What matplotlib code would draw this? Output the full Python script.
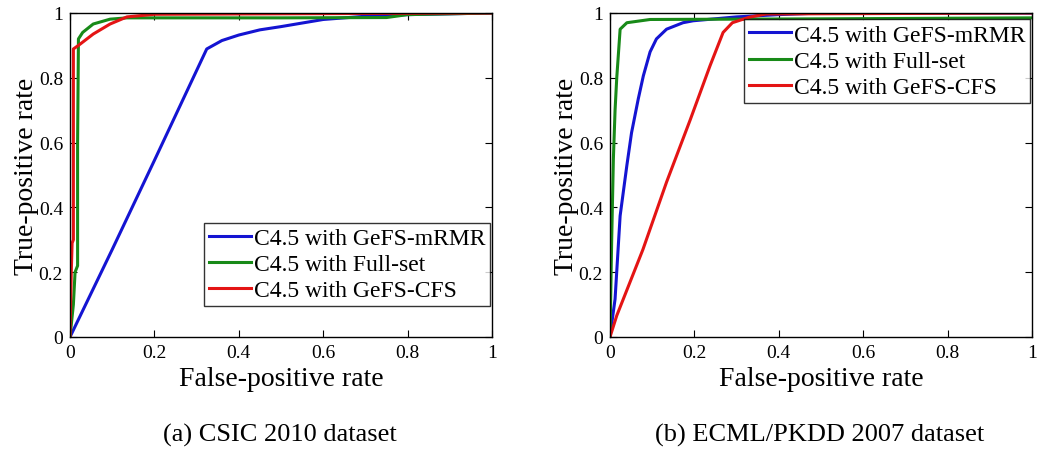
import matplotlib
matplotlib.use("Agg")
import matplotlib.pyplot as plt

# ---- data: (a) CSIC 2010 ----
a_mrmr_fpr = [0.0, 0.10, 0.20, 0.324, 0.36, 0.40, 0.45, 0.50, 0.60, 0.70, 0.80, 1.0]
a_mrmr_tpr = [0.0, 0.27, 0.545, 0.889, 0.915, 0.932, 0.948, 0.958, 0.980, 0.990, 0.995, 1.0]
a_full_fpr = [0.0, 0.008, 0.012, 0.018, 0.018, 0.020, 0.030, 0.055, 0.095, 0.135, 0.50, 0.75, 0.80, 1.0]
a_full_tpr = [0.0, 0.10, 0.20, 0.22, 0.60, 0.92, 0.94, 0.966, 0.981, 0.985, 0.985, 0.986, 0.995, 1.0]
a_cfs_fpr = [0.0, 0.003, 0.005, 0.008, 0.008, 0.02, 0.055, 0.095, 0.135, 0.20, 1.0]
a_cfs_tpr = [0.0, 0.20, 0.29, 0.30, 0.889, 0.90, 0.935, 0.966, 0.988, 0.996, 1.0]

# ---- data: (b) ECML/PKDD 2007 ----
b_mrmr_fpr = [0.0, 0.005, 0.012, 0.024, 0.040, 0.051, 0.067, 0.079, 0.095, 0.11, 0.134, 0.173, 0.197, 0.30, 0.40, 0.50, 1.0]
b_mrmr_tpr = [0.0, 0.05, 0.117, 0.374, 0.53, 0.63, 0.735, 0.806, 0.88, 0.92, 0.95, 0.97, 0.976, 0.988, 0.995, 1.0, 1.0]
b_full_fpr = [0.0, 0.004, 0.008, 0.012, 0.016, 0.024, 0.040, 0.095, 0.50, 1.0]
b_full_tpr = [0.0, 0.30, 0.55, 0.70, 0.80, 0.95, 0.97, 0.98, 0.982, 0.985]
b_cfs_fpr = [0.0, 0.016, 0.078, 0.134, 0.19, 0.237, 0.268, 0.29, 0.33, 0.37, 1.0]
b_cfs_tpr = [0.0, 0.066, 0.27, 0.478, 0.67, 0.837, 0.94, 0.97, 0.987, 0.997, 1.0]

labels = ["C4.5 with GeFS-mRMR", "C4.5 with Full-set", "C4.5 with GeFS-CFS"]
colors = ["#1414d2", "#188a18", "#e41414"]
ticks = [0, 0.2, 0.4, 0.6, 0.8, 1]
tick_labels = ["0", "0.2", "0.4", "0.6", "0.8", "1"]
captions = ["(a) CSIC 2010 dataset", "(b) ECML/PKDD 2007 dataset"]

plt.rcParams['font.family'] = ['Liberation Serif', 'DejaVu Serif']

fig = plt.figure(figsize=(10.37, 4.52), dpi=100)
ax1 = fig.add_axes([70/1037, 1-338/452, 422/1037, 324/452])
ax2 = fig.add_axes([610/1037, 1-338/452, 422/1037, 324/452])

panels = [
    (ax1, [(a_mrmr_fpr, a_mrmr_tpr), (a_full_fpr, a_full_tpr), (a_cfs_fpr, a_cfs_tpr)],
     dict(loc='lower right', bbox_to_anchor=(0.995, 0.095))),
    (ax2, [(b_mrmr_fpr, b_mrmr_tpr), (b_full_fpr, b_full_tpr), (b_cfs_fpr, b_cfs_tpr)],
     dict(loc='upper right', bbox_to_anchor=(0.995, 0.98))),
]

for ax, series, legkw in panels:
    for (x, y), lab, c in zip(series, labels, colors):
        ax.plot(x, y, color=c, lw=2.2, label=lab)
    ax.set_xlim(0, 1)
    ax.set_ylim(0, 1)
    ax.set_xticks(ticks)
    ax.set_xticklabels(tick_labels)
    ax.set_yticks(ticks)
    ax.set_yticklabels(tick_labels)
    ax.tick_params(direction='in', top=True, right=True, labelsize=14, length=5, width=0.8, pad=5)
    for s in ax.spines.values():
        s.set_linewidth(1.0)
    ax.set_xlabel("False-positive rate", fontsize=20, labelpad=4)
    ax.set_ylabel("True-positive rate", fontsize=20, labelpad=0)
    leg = ax.legend(fontsize=17, frameon=True, fancybox=False, edgecolor='black',
                    handlelength=1.8, handletextpad=0.1, borderpad=0.2,
                    labelspacing=0.2, borderaxespad=0.0, **legkw)
    leg.get_frame().set_linewidth(1.0)

fig.text(280/1037, 1-435/452, captions[0], fontsize=19, ha='center', va='center')
fig.text(820/1037, 1-435/452, captions[1], fontsize=19, ha='center', va='center')

fig.savefig("out.png", dpi=100, facecolor='white')
